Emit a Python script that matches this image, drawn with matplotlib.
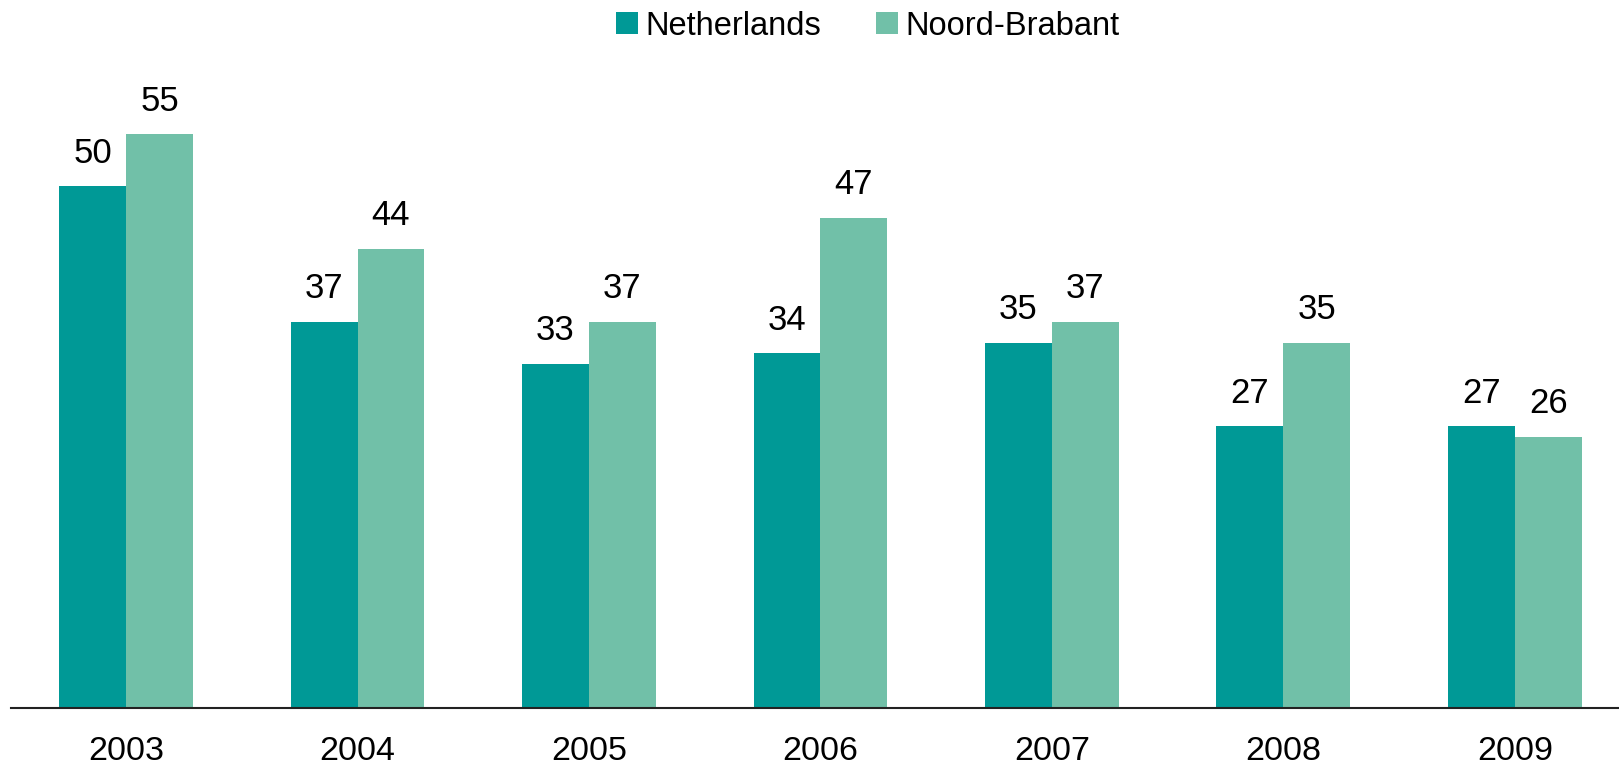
import matplotlib
matplotlib.use("Agg")
import matplotlib.pyplot as plt
import numpy as np

plt.rcParams['font.family'] = ['Liberation Sans', 'DejaVu Sans']

years = ['2003', '2004', '2005', '2006', '2007', '2008', '2009']
netherlands = [50, 37, 33, 34, 35, 27, 27]
noord_brabant = [55, 44, 37, 47, 37, 35, 26]

col_nl = '#009996'
col_nb = '#71C0A8'

fig = plt.figure(figsize=(16.19, 7.69), dpi=100)
ax = fig.add_axes([11 / 1619, 61 / 769, 1 - 11 / 1619, 626 / 769])

x = np.arange(len(years))
w = 0.289
b1 = ax.bar(x - w / 2, netherlands, w, color=col_nl, label='Netherlands')
b2 = ax.bar(x + w / 2, noord_brabant, w, color=col_nb, label='Noord-Brabant')

for bars, vals in [(b1, netherlands), (b2, noord_brabant)]:
    for r, v in zip(bars, vals):
        ax.annotate(str(v), (r.get_x() + r.get_width() / 2, v),
                    xytext=(0, 17), textcoords='offset points',
                    ha='center', va='baseline', fontsize=25)

ax.set_xlim(-0.497, 6.45)
ax.set_ylim(0, 60)
ax.set_xticks(x)
ax.set_xticklabels(years, fontsize=24.5)
ax.tick_params(axis='x', length=0, pad=20)
ax.set_yticks([])
for s in ['top', 'right', 'left']:
    ax.spines[s].set_visible(False)
ax.spines['bottom'].set_color('#222222')
ax.spines['bottom'].set_linewidth(1.5)

fig.legend(loc='center', bbox_to_anchor=(0.536, 0.966), ncol=2, frameon=False,
           fontsize=23.5, handlelength=0.68, handleheight=0.68, handletextpad=0.22,
           columnspacing=1.68)

fig.savefig('out.png', dpi=100)
